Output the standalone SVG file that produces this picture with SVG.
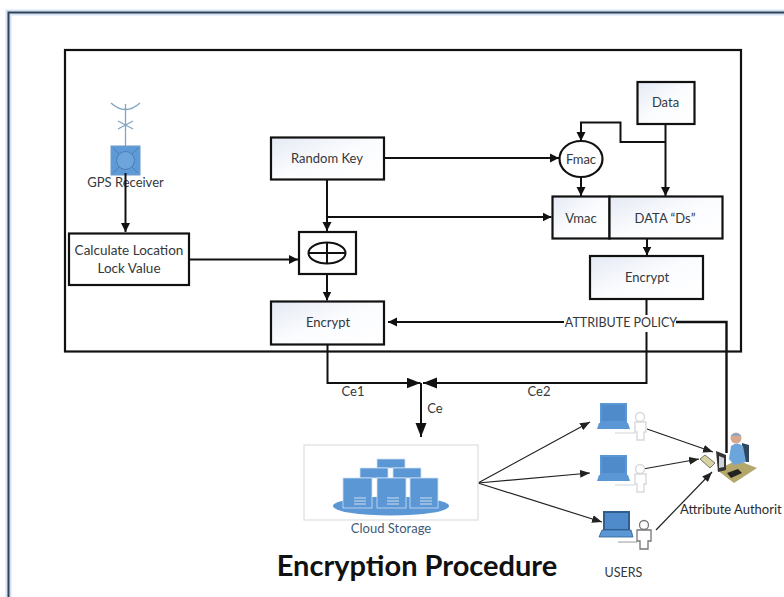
<svg xmlns="http://www.w3.org/2000/svg" width="784" height="597" viewBox="0 0 784 597">
<defs>
<linearGradient id="bx" x1="0" y1="0" x2="1" y2="1"><stop offset="0" stop-color="#e4e9f3"/><stop offset="0.5" stop-color="#fbfcfe"/><stop offset="1" stop-color="#ffffff"/></linearGradient>
<marker id="a" markerUnits="userSpaceOnUse" markerWidth="11" markerHeight="11" refX="9" refY="5" orient="auto"><path d="M0 0.500L9 5L0 9.500z" fill="#111"/></marker>
<marker id="b" markerUnits="userSpaceOnUse" markerWidth="15" markerHeight="12" refX="14" refY="5.500" orient="auto"><path d="M0 0L14 5.500L0 11z" fill="#111"/></marker>
<marker id="s" markerUnits="userSpaceOnUse" markerWidth="12" markerHeight="10" refX="10" refY="4" orient="auto"><path d="M0 0L10 4L0 8z" fill="#222"/></marker>
</defs>
<style>
text{font-family:Lato,"Liberation Sans",Arial,sans-serif;font-size:13px;fill:#33373d;text-anchor:middle}
.b{fill:url(#bx);stroke:#111;stroke-width:2.200}
.w{fill:#fff;stroke:#111;stroke-width:2.200}
.c{fill:none;stroke:#111;stroke-width:2}
.t{fill:none;stroke:#222;stroke-width:1.200}
.bl{fill:#5b97d5}
.u{fill:#fff;stroke:#d6d9dd;stroke-width:1.400}
.ul{fill:none;stroke:#d8dbdf;stroke-width:1.200}
.sv{fill:#5b97d5;stroke:#cfe0f2;stroke-width:0.800}
.gl{stroke:#cfe0f2;stroke-width:1.200}
</style>
<rect width="784" height="597" fill="#fff"/>
<path id="page-halo" d="M784 12.500H8.500V597" fill="none" stroke="#d4e2f3" stroke-width="6"/>
<path id="page" d="M784 12.500H8.500V597" fill="none" stroke="#2f4258" stroke-width="2"/>
<rect id="frame" x="65" y="50" width="676" height="301.500" fill="#fff" stroke="#111" stroke-width="2.200"/>

<g id="gps">
<path d="M111 103Q125.500 116 140 103" fill="none" stroke="#7fa5c0" stroke-width="1.300"/>
<path d="M125.500 104V146M118 121L133 129M133 121L118 129" fill="none" stroke="#7fa5c0" stroke-width="1.300"/>
<rect x="111" y="146" width="29" height="29" fill="#5f9ad8" stroke="#6c9bc8"/>
<circle cx="125.500" cy="160.500" r="9" fill="#6ea4dc" stroke="#4a7fb5"/>
<path d="M113 148L119 154M138 148L132 154M113 173L119 167M138 173L132 167" stroke="#4a7fb5" fill="none"/>
<text x="125.500" y="187">GPS Receiver</text>
</g>
<g id="calc"><rect class="w" x="69" y="233.500" width="120" height="51.500"/><text x="129" y="255" style="font-size:13.500px">Calculate Location</text><text x="129" y="272.500" style="font-size:13.500px">Lock Value</text></g>
<g id="randomkey"><rect class="b" x="271" y="137.500" width="113" height="42"/><text x="327" y="163">Random Key</text></g>
<g id="xor"><rect class="w" x="299" y="232" width="57" height="42"/><ellipse cx="327" cy="253" rx="18.500" ry="10.500" fill="#fff" stroke="#111" stroke-width="2"/><path d="M308 253H346M327 242.500V263.500" stroke="#111" stroke-width="2" fill="none"/></g>
<g id="encrypt1"><rect class="b" x="271" y="301.500" width="113" height="43"/><text x="328" y="327">Encrypt</text></g>
<g id="data"><rect class="b" x="637.500" y="82" width="57" height="42"/><text x="665.500" y="107">Data</text></g>
<g id="fmac"><ellipse cx="581" cy="159" rx="21.500" ry="18" fill="#fff" stroke="#111" stroke-width="2.200"/><text x="581" y="163.500">Fmac</text></g>
<g id="vmac"><rect class="b" x="552.500" y="196.500" width="57" height="42"/><text x="581" y="222.500">Vmac</text></g>
<g id="dsdata"><rect class="b" x="609.500" y="196.500" width="113" height="42"/><text x="665" y="222.500">DATA “Ds”</text></g>
<g id="encrypt2"><rect class="b" x="590" y="256" width="113" height="43"/><text x="647" y="282">Encrypt</text></g>

<g id="connectors">
<path class="c" d="M125.500 173V232" marker-end="url(#a)"/>
<path class="c" d="M189 259.500H298" marker-end="url(#a)"/>
<path class="c" d="M327 180V231" marker-end="url(#a)"/>
<path class="c" d="M327 275V300.500" marker-end="url(#a)"/>
<path class="c" d="M384 158H559" marker-end="url(#a)"/>
<path class="c" d="M327 217H551.500" marker-end="url(#a)"/>
<path class="c" d="M665.500 125V196" marker-end="url(#a)"/>
<path class="c" d="M665.500 142H620.500V122.500H581V141" marker-end="url(#a)"/>
<path class="c" d="M581 177V196" marker-end="url(#a)"/>
<path class="c" d="M647 239V255.500" marker-end="url(#a)"/>
<path class="c" d="M646.500 299V315M646.500 332V383H423" marker-end="url(#b)"/>
<path class="c" d="M327.500 345V383H420.500" marker-end="url(#b)"/>
<path class="c" d="M421 383V437" marker-end="url(#b)"/>
<path class="c" d="M564 322H388" marker-end="url(#a)"/>
<path class="c" d="M676 322H726.500V453" style="stroke-width:2.400"/>
<path class="t" d="M478 483L590 422" marker-end="url(#s)"/>
<path class="t" d="M478 483L590 473" marker-end="url(#s)"/>
<path class="t" d="M478 483L602 522" marker-end="url(#s)"/>
<path class="t" d="M647 429L713 452" marker-end="url(#s)"/>
<path class="t" d="M643 469L699 459" marker-end="url(#s)"/>
<path class="t" d="M656 530L712 472" marker-end="url(#s)"/>
</g>
<text id="attr" x="621" y="326.500" style="font-size:12.500px">ATTRIBUTE POLICY</text>
<text id="ce1" x="353" y="396">Ce1</text>
<text id="ce2" x="539" y="396">Ce2</text>
<text id="ce" x="435" y="413">Ce</text>

<g id="cloud">
<rect x="304" y="445" width="174" height="75" fill="#fff" stroke="#e3e5e8" stroke-width="1.500"/>
<ellipse cx="391" cy="506" rx="58" ry="9.500" fill="#5b97d5"/>
<rect class="sv" x="377" y="459" width="28" height="9"/>
<rect class="sv" x="360" y="468" width="28" height="10"/>
<rect class="sv" x="393" y="468" width="28" height="10"/>
<rect class="sv" x="343" y="478" width="29" height="30"/>
<rect class="sv" x="377" y="478" width="29" height="30"/>
<rect class="sv" x="410" y="478" width="28" height="30"/>
<path class="gl" d="M354 498h12M354 501h12M354 504h12M387 498h12M387 501h12M387 504h12M420 498h12M420 501h12M420 504h12"/>
<text x="391" y="533" style="fill:#3d5a78">Cloud Storage</text>
</g>

<g id="user1">
<path class="bl" d="M600 403H627V423H600z"/><rect x="602" y="405" width="23" height="16" fill="#4f8bca"/><path class="bl" d="M599 423H628L630 429H597z"/>
<path class="ul" d="M615 433H635"/><circle class="u" cx="640" cy="417" r="4.500"/><path class="u" d="M635 422H646V432H644V440H637V432H635z"/>
</g>
<g id="user2">
<path class="bl" d="M600 455H627V475H600z"/><rect x="602" y="457" width="23" height="16" fill="#4f8bca"/><path class="bl" d="M599 475H628L630 481H597z"/>
<path class="ul" d="M615 485H635"/><circle class="u" cx="640" cy="469" r="4.500"/><path class="u" d="M635 474H646V484H644V492H637V484H635z"/>
</g>
<g id="user3">
<path d="M603 511H630V530H603z" fill="#2f5f8f"/><rect x="605" y="513" width="23" height="16" fill="#4f8bca"/><path class="bl" d="M602 530H631L633 537H599z" stroke="#2f5f8f" stroke-width="0.800"/>
<path d="M618 542H637" stroke="#999" fill="none"/><circle cx="644" cy="525" r="4.500" fill="#fff" stroke="#777" stroke-width="1.300"/><path d="M637 530H651V541H648V549H640V541H637z" fill="#fff" stroke="#777" stroke-width="1.300"/>
</g>
<g id="authority">
<path d="M717 470L737 460L757 468L734 483z" fill="#b3a76c"/>
<path d="M716 451L726 455V470L718 472z" fill="#333"/><path d="M719 456L724 458V467L719 468z" fill="#cdd3d8"/>
<path d="M700 459L705 455L715 463L710 468z" fill="#d8d2a0" stroke="#555" stroke-width="0.800"/>
<path d="M742 443L749 445V462H742z" fill="#33475c"/>
<path d="M731 446Q737 441 743 446L746 462L734 465L729 459z" fill="#6ba5dc"/>
<circle cx="736" cy="438" r="5.500" fill="#d9a78e"/><path d="M730.500 436Q736 430 741.500 436z" fill="#8aa8c4"/>
<path d="M727 473L738 469L742 473L731 478z" fill="#222"/>
<text x="680" y="514" style="text-anchor:start;font-size:13px;fill:#2b2b2b">Attribute Authorit</text>
</g>
<text id="users" x="623.500" y="577" style="font-size:12.500px">USERS</text>
<text id="title" x="417" y="576" style="font-size:29px;font-weight:bold;fill:#111">Encryption Procedure</text>
</svg>
